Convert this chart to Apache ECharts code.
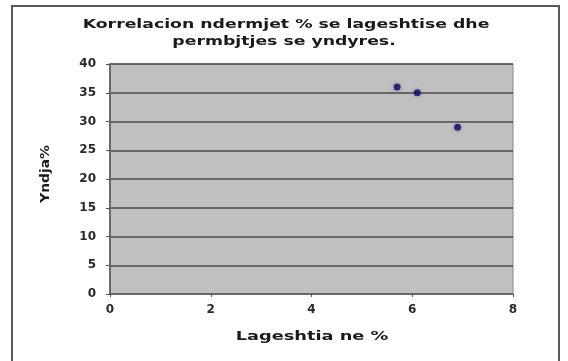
<!DOCTYPE html>
<html>
<head>
<meta charset="utf-8">
<script src="https://cdn.jsdelivr.net/npm/echarts@6/dist/echarts.min.js"></script>
<style>html,body{margin:0;padding:0;background:#fff}#c{width:568px;height:361px}</style>
</head>
<body>
<div id="c"></div>
<script>
var titleLines = ['Korrelacion ndermjet % se lageshtise dhe', 'permbjtjes se yndyres.'];
var xName = 'Lageshtia ne %';
var yName = 'Yndja%';
var xValues = [5.7, 6.1, 6.9];
var yValues = [36, 35, 29];
var xTicks = [0, 2, 4, 6, 8];
var yTicks = [0, 5, 10, 15, 20, 25, 30, 35, 40];

var points = xValues.map(function (x, i) { return [x, yValues[i]]; });
var FONT = 'bold 12px "DejaVu Sans"';

var chart = echarts.init(document.getElementById('c'), null, {renderer: 'canvas'});
chart.setOption({
  animation: false,
  backgroundColor: '#ffffff',
  grid: {left: 110, top: 64, width: 403, height: 230, show: true,
         backgroundColor: '#c0c0c0', borderColor: '#8a8a8a', borderWidth: 1},
  xAxis: {
    type: 'value', min: xTicks[0], max: xTicks[xTicks.length - 1], interval: 2,
    axisLine: {show: true, onZero: false, lineStyle: {color: '#6a6a6a', width: 1.5}},
    axisTick: {show: true, length: 3, lineStyle: {color: '#555'}},
    axisLabel: {color: '#2a2a2a', fontFamily: 'DejaVu Sans', fontWeight: 'bold', fontSize: 12, margin: 10},
    splitLine: {show: false}
  },
  yAxis: {
    type: 'value', min: yTicks[0], max: yTicks[yTicks.length - 1], interval: 5,
    axisLine: {show: true, onZero: false, lineStyle: {color: '#6a6a6a', width: 2}},
    axisTick: {show: true, length: 4, lineStyle: {color: '#555'}},
    axisLabel: {color: '#2a2a2a', fontFamily: 'DejaVu Sans', fontWeight: 'bold', fontSize: 12, margin: 14},
    splitLine: {show: true, lineStyle: {color: '#4a4a4a', width: 1.6}}
  },
  series: [{
    type: 'scatter', data: points, symbol: 'circle', symbolSize: 7,
    itemStyle: {color: '#0a0a5a', shadowBlur: 4, shadowColor: 'rgba(90,90,200,0.6)'}
  }],
  graphic: [
    {type: 'rect', shape: {x: 12, y: 6, width: 547, height: 362}, silent: true,
     style: {fill: 'none', stroke: '#5a5a5a', lineWidth: 2}, z: -1},
    {type: 'text', x: 286, y: 25, scaleX: 1.44,
     style: {text: titleLines[0], font: FONT, fill: '#1a1a1a', textAlign: 'center', textVerticalAlign: 'middle'}},
    {type: 'text', x: 284, y: 42, scaleX: 1.44,
     style: {text: titleLines[1], font: FONT, fill: '#1a1a1a', textAlign: 'center', textVerticalAlign: 'middle'}},
    {type: 'text', x: 312, y: 337, scaleX: 1.48,
     style: {text: xName, font: FONT, fill: '#1a1a1a', textAlign: 'center', textVerticalAlign: 'middle'}},
    {type: 'text', x: 46, y: 174, rotation: Math.PI / 2, scaleX: 1.15,
     style: {text: yName, font: FONT, fill: '#1a1a1a', textAlign: 'center', textVerticalAlign: 'middle'}}
  ]
});
</script>
</body>
</html>
